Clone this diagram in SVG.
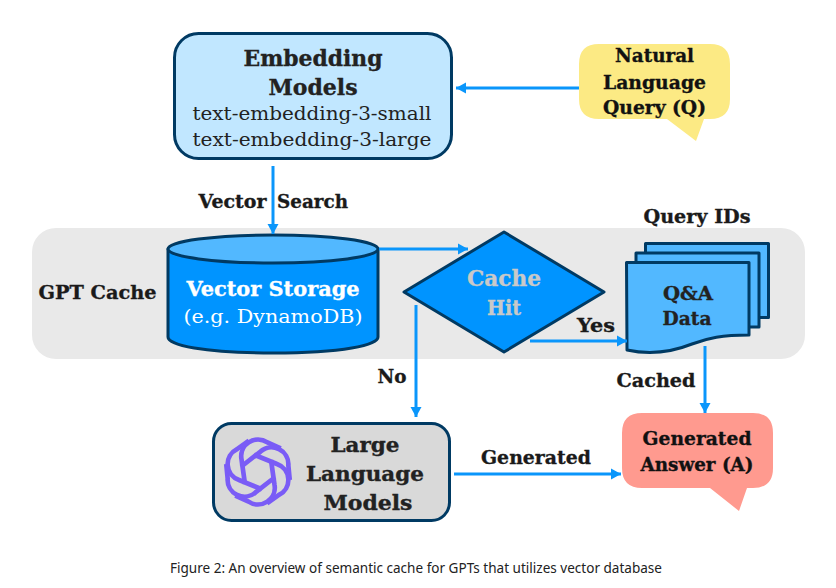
<svg xmlns="http://www.w3.org/2000/svg" width="836" height="588" viewBox="0 0 836 588">
<defs>
<marker id="ah" markerUnits="userSpaceOnUse" markerWidth="11" markerHeight="12" refX="10" refY="6" orient="auto"><path d="M0,0.5L10,6L0,11.5Z" fill="#0a96fb"/></marker>
<path id="strand" d="M-13,9V-13A15 15 0 0 1 12,-25L23,-18"/>
</defs>
<style>
text{font-family:"DejaVu Serif","Liberation Serif",serif;text-anchor:middle}
.b{font-weight:700;stroke-width:.35px}
.dk{fill:#222}
.b.dk{stroke:#222}
.blk{fill:#111}
.b.blk{stroke:#111}
.lb{font-size:19px;font-weight:700;fill:#1a1a1a;stroke:#1a1a1a;stroke-width:.35px}
.s{stroke:#003a63;stroke-width:3;stroke-linejoin:round}
.c{fill:none;stroke:#0a96fb;stroke-width:3}
</style>
<rect width="836" height="588" fill="#fff"/>
<rect id="gpt-cache-band" x="32" y="228" width="773" height="131" rx="24" fill="#e9e9e9"/>
<g id="embedding-models">
<rect x="174.500" y="33.500" width="277" height="125" rx="24" fill="#c1e7ff" class="s"/>
<text class="b dk" x="313" y="66" font-size="22" textLength="139" lengthAdjust="spacingAndGlyphs">Embedding</text>
<text class="b dk" x="313" y="94.500" font-size="22" textLength="89" lengthAdjust="spacingAndGlyphs">Models</text>
<text class="dk" x="312" y="120" font-size="19" textLength="239" lengthAdjust="spacingAndGlyphs">text-embedding-3-small</text>
<text class="dk" x="312" y="146" font-size="19" textLength="239" lengthAdjust="spacingAndGlyphs">text-embedding-3-large</text>
</g>
<g id="natural-language-query">
<path d="M599,44H710Q730,44 730,64V99Q730,119 710,119H704L696,141L667,119H599Q579,119 579,99V64Q579,44 599,44Z" fill="#fcea84"/>
<text class="b blk" x="654.500" y="62" font-size="19" textLength="79" lengthAdjust="spacingAndGlyphs">Natural</text>
<text class="b blk" x="654.500" y="88.500" font-size="19" textLength="103" lengthAdjust="spacingAndGlyphs">Language</text>
<text class="b blk" x="654.500" y="114" font-size="19" textLength="103" lengthAdjust="spacingAndGlyphs">Query (Q)</text>
</g>
<g id="vector-storage">
<path d="M168,249V337C168,345 203,353 273,353C343,353 378,345 378,337V249Z" fill="#0094ff" class="s"/>
<ellipse cx="273" cy="249" rx="105" ry="14" fill="#52b8ff" class="s"/>
<text class="b" x="273" y="296" font-size="21" fill="#fff" stroke="#fff" textLength="173" lengthAdjust="spacingAndGlyphs">Vector Storage</text>
<text x="273" y="323" font-size="19" fill="#fff" textLength="179" lengthAdjust="spacingAndGlyphs">(e.g. DynamoDB)</text>
</g>
<g id="cache-hit">
<path d="M504,232L604,292L504,352L404,292Z" fill="#0094ff" class="s"/>
<text class="b" x="504" y="286" font-size="22" fill="#c9c9c9" stroke="#c9c9c9" textLength="74" lengthAdjust="spacingAndGlyphs">Cache</text>
<text class="b" x="504" y="315" font-size="20" fill="#c9c9c9" stroke="#c9c9c9" textLength="34" lengthAdjust="spacingAndGlyphs">Hit</text>
</g>
<g id="query-ids-data">
<rect x="645.500" y="243.500" width="123" height="74" fill="#52b8ff" class="s"/>
<rect x="636" y="253" width="123" height="74" fill="#52b8ff" class="s"/>
<path d="M626.500,262.500H749V335C722,335 708,338 692,344C672,352 650,355 627,350Z" fill="#52b8ff" class="s"/>
<text class="b dk" x="688" y="300" font-size="19" textLength="50" lengthAdjust="spacingAndGlyphs">Q&amp;A</text>
<text class="b dk" x="687" y="325" font-size="19" textLength="49" lengthAdjust="spacingAndGlyphs">Data</text>
</g>
<g id="large-language-models">
<rect x="213.500" y="423.500" width="236" height="97" rx="18" fill="#d9d9d9" class="s"/>
<g transform="translate(258 472) rotate(-8) scale(1.12)" fill="none" stroke="#7a5cf6" stroke-width="4.200" stroke-linejoin="round">
<use href="#strand"/>
<use href="#strand" transform="rotate(60)"/>
<use href="#strand" transform="rotate(120)"/>
<use href="#strand" transform="rotate(180)"/>
<use href="#strand" transform="rotate(240)"/>
<use href="#strand" transform="rotate(300)"/>
</g>
<text class="b dk" x="365" y="452" font-size="21" textLength="69" lengthAdjust="spacingAndGlyphs">Large</text>
<text class="b dk" x="365" y="481" font-size="21" textLength="118" lengthAdjust="spacingAndGlyphs">Language</text>
<text class="b dk" x="368" y="510" font-size="21" textLength="89" lengthAdjust="spacingAndGlyphs">Models</text>
</g>
<g id="generated-answer">
<path d="M642,413H753Q773,413 773,433V468Q773,488 753,488H747L739,511L710,488H642Q622,488 622,468V433Q622,413 642,413Z" fill="#ff9a8f"/>
<text class="b blk" x="697" y="445" font-size="19" textLength="109" lengthAdjust="spacingAndGlyphs">Generated</text>
<text class="b blk" x="697" y="471" font-size="19" textLength="113" lengthAdjust="spacingAndGlyphs">Answer (A)</text>
</g>
<g id="connectors">
<line class="c" x1="579" y1="88" x2="456" y2="88" marker-end="url(#ah)"/>
<line class="c" x1="273" y1="166" x2="273" y2="234" marker-end="url(#ah)"/>
<line class="c" x1="379" y1="249" x2="468" y2="249" marker-end="url(#ah)"/>
<line class="c" x1="416" y1="305" x2="416" y2="417" marker-end="url(#ah)"/>
<line class="c" x1="530" y1="341" x2="627" y2="341" marker-end="url(#ah)"/>
<line class="c" x1="705" y1="346" x2="705" y2="413" marker-end="url(#ah)"/>
<line class="c" x1="454" y1="474" x2="621" y2="474" marker-end="url(#ah)"/>
</g>
<g id="labels">
<text class="lb" x="232.500" y="208" textLength="68" lengthAdjust="spacingAndGlyphs">Vector</text>
<text class="lb" x="312.500" y="208" textLength="71" lengthAdjust="spacingAndGlyphs">Search</text>
<text class="lb" x="97.500" y="299" textLength="118" lengthAdjust="spacingAndGlyphs">GPT Cache</text>
<text class="lb" x="697" y="223" textLength="107" lengthAdjust="spacingAndGlyphs">Query IDs</text>
<text class="lb" x="596" y="332" textLength="38" lengthAdjust="spacingAndGlyphs">Yes</text>
<text class="lb" x="392" y="383" textLength="29" lengthAdjust="spacingAndGlyphs">No</text>
<text class="lb" x="656" y="387" textLength="79" lengthAdjust="spacingAndGlyphs">Cached</text>
<text class="lb" x="536" y="464" textLength="110" lengthAdjust="spacingAndGlyphs">Generated</text>
</g>
<text id="caption" x="416" y="573" font-size="14" fill="#222" style="font-family:'Noto Sans','Open Sans',sans-serif" textLength="492" lengthAdjust="spacingAndGlyphs">Figure 2: An overview of semantic cache for GPTs that utilizes vector database</text>
</svg>
